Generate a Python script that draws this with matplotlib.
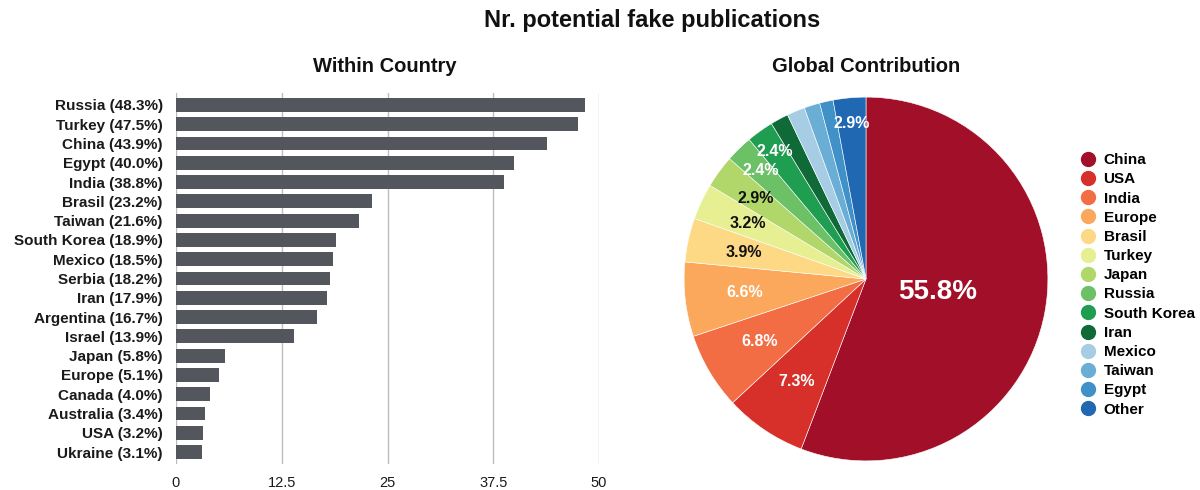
import matplotlib
matplotlib.use("Agg")
import matplotlib.pyplot as plt
from matplotlib.lines import Line2D
import numpy as np

plt.rcParams['font.family'] = ['Liberation Sans', 'DejaVu Sans']

# ---- data: within country share (%) ----
bar_countries = ["Russia", "Turkey", "China", "Egypt", "India", "Brasil", "Taiwan",
                 "South Korea", "Mexico", "Serbia", "Iran", "Argentina", "Israel",
                 "Japan", "Europe", "Canada", "Australia", "USA", "Ukraine"]
bar_values = [48.3, 47.5, 43.9, 40.0, 38.8, 23.2, 21.6, 18.9, 18.5, 18.2, 17.9,
              16.7, 13.9, 5.8, 5.1, 4.0, 3.4, 3.2, 3.1]
x_ticks = [0, 12.5, 25, 37.5, 50]
x_tick_labels = ["0", "12.5", "25", "37.5", "50"]

# ---- data: global contribution (%) ----
pie_labels = ["China", "USA", "India", "Europe", "Brasil", "Turkey", "Japan",
              "Russia", "South Korea", "Iran", "Mexico", "Taiwan", "Egypt", "Other"]
pie_values = [55.8, 7.3, 6.8, 6.6, 3.9, 3.2, 2.9, 2.4, 2.4, 1.6, 1.6, 1.4, 1.2, 2.9]
pie_shown = [True, True, True, True, True, True, True, True, True,
             False, False, False, False, True]
pie_colors = ["#a20f28", "#d7302a", "#f26d44", "#fba85c", "#fdd985", "#e6ef91",
              "#b1d76a", "#6cc066", "#1f9d50", "#0f6a38", "#a6cde3", "#6aaed6",
              "#4191c9", "#2168b3"]
pct_text_colors = ["white", "white", "white", "white", "#111111", "#111111",
                   "#111111", "white", "white", "white", "white", "white", "white", "white"]
pct_dist = [0.40, 0.68, 0.68, 0.67, 0.69, 0.72, 0.75, 0.83, 0.86, 0.8, 0.8, 0.8, 0.8, 0.86]
pct_size = [20, 11.5, 11.5, 11.5, 11.5, 11.5, 11.5, 11.5, 11.5, 11, 11, 11, 11, 11.5]

W, H = 1200, 490
fig = plt.figure(figsize=(W / 100, H / 100), dpi=100)

fig.text(652 / W, 1 - 20 / H, "Nr. potential fake publications", ha="center", va="center",
         fontsize=17, fontweight="bold", color="#111111")

# ---- bar chart ----
ax = fig.add_axes([176 / W, 1 - 463.6 / H, 423 / W, (463.6 - 93.4) / H])
y = np.arange(len(bar_values))
ax.barh(y, bar_values, height=0.72, color="#53565c", zorder=3)
ax.set_xlim(0, 50)
ax.set_ylim(len(bar_values) - 1 + 0.6, -0.6)
ax.set_yticks(y)
ax.set_yticklabels([f"{c} ({v:.1f}%)" for c, v in zip(bar_countries, bar_values)],
                   fontsize=11, fontweight="bold", color="#1a1a1a")
ax.set_xticks(x_ticks)
ax.set_xticklabels(x_tick_labels, fontsize=10.5, color="#1a1a1a")
ax.tick_params(axis="both", length=0)
ax.tick_params(axis="y", pad=9.5)
ax.tick_params(axis="x", pad=9)
ax.grid(axis="x", color="#bdbdbd", linewidth=1.0, zorder=0)
for s in ax.spines.values():
    s.set_visible(False)
fig.text(385 / W, 1 - 66 / H, "Within Country", ha="center", va="center",
         fontsize=14.5, fontweight="bold", color="#111111")

# ---- pie chart ----
pax = fig.add_axes([675 / W, 20 / H, 382 / W, 382 / H])
wedges, _ = pax.pie(pie_values, colors=pie_colors, startangle=90, counterclock=False,
                    wedgeprops=dict(edgecolor="white", linewidth=0.4))
pax.set_xlim(-1.05, 1.05)
pax.set_ylim(-1.05, 1.05)
pax.set_aspect("equal")
for w, v, show, tc, d, fs in zip(wedges, pie_values, pie_shown, pct_text_colors, pct_dist, pct_size):
    if not show:
        continue
    ang = np.deg2rad((w.theta1 + w.theta2) / 2)
    pax.text(d * np.cos(ang), d * np.sin(ang), f"{v:.1f}%", ha="center", va="center",
             color=tc, fontsize=fs, fontweight="bold")
fig.text(866 / W, 1 - 66 / H, "Global Contribution", ha="center", va="center",
         fontsize=14.5, fontweight="bold", color="#111111")

handles = [Line2D([0], [0], marker="o", linestyle="none", markersize=10,
                  markerfacecolor=c, markeredgecolor=c) for c in pie_colors]
fig.legend(handles, pie_labels, loc="upper left", bbox_to_anchor=(1070 / W, 1 - 147 / H),
           frameon=False, prop=dict(size=11, weight="bold"), labelspacing=0.34,
           handletextpad=0.3, handlelength=1.5, borderaxespad=0)

fig.savefig("out.png", dpi=100, facecolor="white")
